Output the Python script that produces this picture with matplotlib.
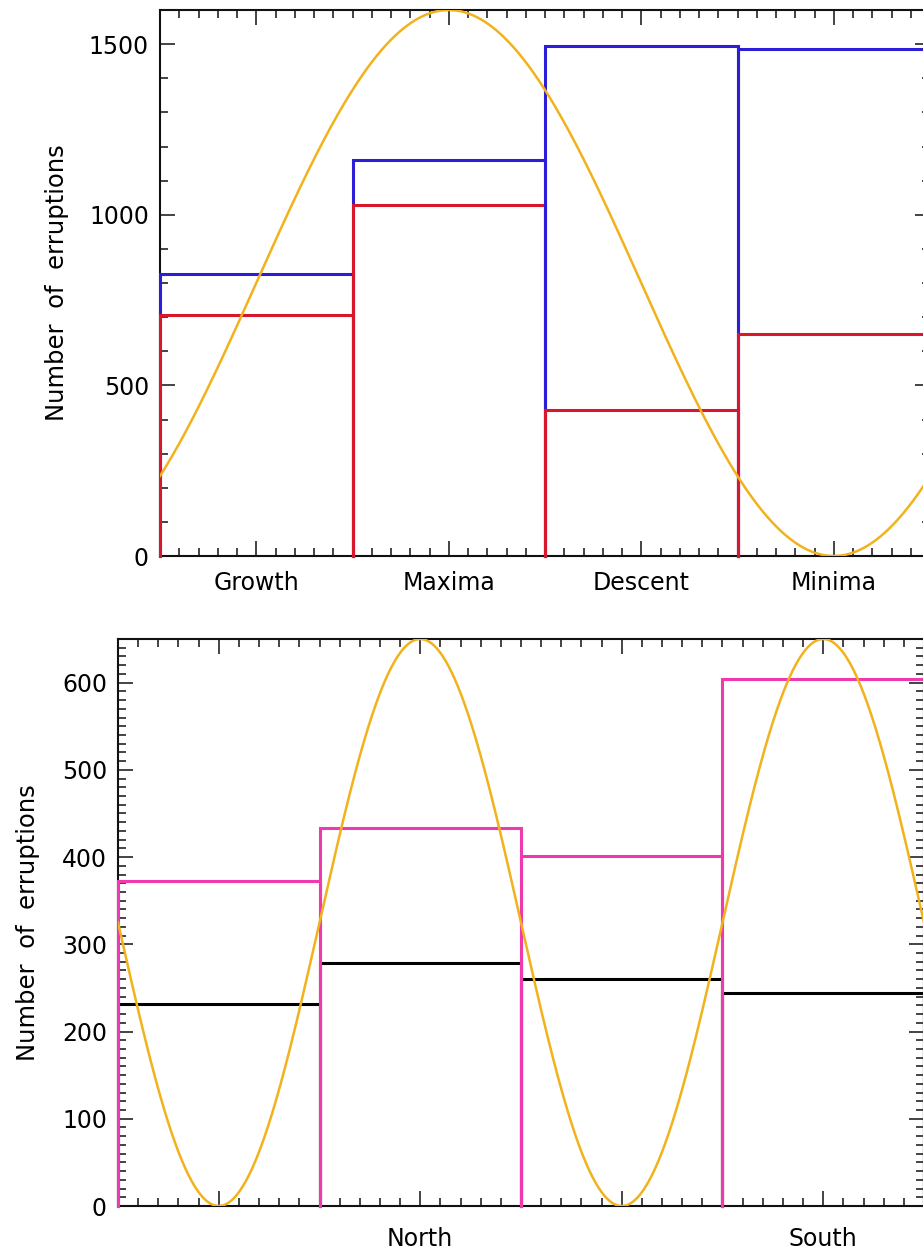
import numpy as np
import matplotlib.pyplot as plt
from matplotlib.ticker import MultipleLocator, FixedLocator

# top panel: eruptions per solar cycle phase
phases = ["Growth", "Maxima", "Descent", "Minima"]
top_blue = [825, 1160, 1495, 1485]
top_red = [705, 1029, 427, 652]

# bottom panel: eruptions per hemisphere
hemi_labels = ["", "North", "", "South"]
bot_pink = [373, 433, 401, 604]
bot_black = [232, 279, 260, 244]

# reference solar-cycle wave (mid, amplitude, position of peak, period in bins)
top_wave = (800, 800, 1.5, 4.0)
bot_wave = (325, 325, 1.5, 2.0)

c_blue = "#2b1ed6"
c_red = "#d9172c"
c_pink = "#ee3aae"
c_black = "#000000"
c_gold = "#f2b21c"

plt.rcParams['font.family'] = ['DejaVu Sans']

fig = plt.figure(figsize=(9.23, 12.56), dpi=100)
ax1 = fig.add_axes([160/923, 700/1256, 770/923, 546/1256])
ax2 = fig.add_axes([118/923, 50/1256, 806/923, 567/1256])


def draw_bins(ax, under, over, c_under, c_over):
    # each bin drawn as an open box, later bins on top of earlier ones
    n = len(under)
    for i in range(n):
        for vals, col in ((under, c_under), (over, c_over)):
            v = vals[i]
            ax.plot([i, i, i + 1, i + 1], [0, v, v, 0], color=col, lw=2.2,
                    clip_on=False, solid_joinstyle='miter', zorder=3)


def draw_wave(ax, wave, n):
    mid, amp, peak, period = wave
    x = np.linspace(0, n, 800)
    y = mid + amp * np.cos(2 * np.pi * (x - peak) / period)
    ax.plot(x, y, color=c_gold, lw=1.8, zorder=4)


def style(ax, ymax, ymajor, yminor, labels, xpad):
    ax.set_xlim(0, 4)
    ax.set_ylim(0, ymax)
    ax.xaxis.set_major_locator(FixedLocator([0.5, 1.5, 2.5, 3.5]))
    ax.xaxis.set_minor_locator(MultipleLocator(0.1))
    ax.set_xticklabels(labels)
    ax.yaxis.set_major_locator(MultipleLocator(ymajor))
    ax.yaxis.set_minor_locator(MultipleLocator(yminor))
    ax.tick_params(which='both', direction='in', top=True, right=True, width=1.1, color='#111111')
    ax.tick_params(which='major', length=11)
    ax.tick_params(which='minor', length=6)
    ax.tick_params(axis='y', labelsize=17, pad=8)
    ax.tick_params(axis='x', labelsize=17, pad=xpad)
    for s in ax.spines.values():
        s.set_linewidth(1.5)
        s.set_color('#111111')
    ax.set_ylabel("Number  of  erruptions", fontsize=17.5)
    ax.yaxis.label.set_va('center')


draw_bins(ax1, top_blue, top_red, c_blue, c_red)
draw_wave(ax1, top_wave, len(phases))
style(ax1, 1600, 500, 100, phases, 11)
ax1.yaxis.set_label_coords((57 - 160) / 770, 0.5)

draw_bins(ax2, bot_black, bot_pink, c_black, c_pink)
draw_wave(ax2, bot_wave, len(hemi_labels))
style(ax2, 650, 100, 10, hemi_labels, 15)
ax2.yaxis.set_label_coords((28 - 118) / 806, 0.5)

fig.savefig("out.png", dpi=100)
